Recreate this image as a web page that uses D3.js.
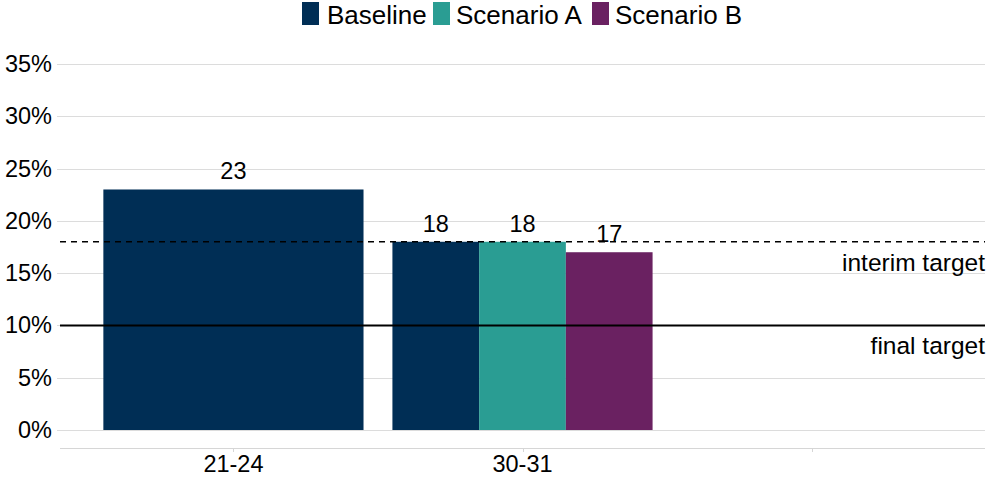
<!DOCTYPE html>
<html>
<head>
<meta charset="utf-8">
<script src="https://cdn.jsdelivr.net/npm/d3@7"></script>
<style>
  html, body { margin: 0; padding: 0; background: #fff; }
  svg { display: block; font-family: "Liberation Sans", Arial, sans-serif; }
</style>
</head>
<body>
<svg id="chart" width="996" height="480"></svg>
<script>
const categories = ["21-24", "30-31", ""];
const seriesNames = ["Baseline", "Scenario A", "Scenario B"];
const baseline  = [23, 18, null];
const scenarioA = [null, 18, null];
const scenarioB = [null, 17, null];
const yTicks = [0, 5, 10, 15, 20, 25, 30, 35];
const targets = [
  { name: "interim target", value: 18, dashed: true },
  { name: "final target", value: 10, dashed: false }
];
const colors = ["#002e55", "#2a9d93", "#6a2161"];

const seriesValues = [baseline, scenarioA, scenarioB];
const svg = d3.select("#chart");

const x = d3.scaleBand().domain(categories).range([60, 985])
  .paddingInner(0.1).paddingOuter(0.15);
const y = d3.scaleLinear().domain([0, 35]).range([430, 64]);
const color = d3.scaleOrdinal().domain(seriesNames).range(colors);

// gridlines
svg.append("g").selectAll("line").data(yTicks).join("line")
  .attr("x1", 57).attr("x2", 985)
  .attr("y1", d => Math.round(y(d)) + 0.5).attr("y2", d => Math.round(y(d)) + 0.5)
  .attr("stroke", "#dcdcdc").attr("stroke-width", 1);

// y labels
svg.append("g").selectAll("text").data(yTicks).join("text")
  .attr("x", 52).attr("y", d => y(d) + 8)
  .attr("text-anchor", "end").attr("font-size", 23.5).attr("fill", "#000")
  .text(d => d + "%");

// x axis
const xAxisY = 448;
svg.append("line").attr("x1", 60).attr("x2", 985)
  .attr("y1", xAxisY + 0.5).attr("y2", xAxisY + 0.5)
  .attr("stroke", "#d6d6d6").attr("stroke-width", 1);
svg.append("g").selectAll("line").data(categories).join("line")
  .attr("x1", d => Math.round(x(d) + x.bandwidth() / 2) + 0.5)
  .attr("x2", d => Math.round(x(d) + x.bandwidth() / 2) + 0.5)
  .attr("y1", xAxisY).attr("y2", xAxisY + 4)
  .attr("stroke", "#d6d6d6");
svg.append("g").selectAll("text").data(categories).join("text")
  .attr("x", d => x(d) + x.bandwidth() / 2).attr("y", 472)
  .attr("text-anchor", "middle").attr("font-size", 23.5).attr("fill", "#000")
  .text(d => d);

// bars
const groups = svg.append("g").selectAll("g").data(categories).join("g")
  .attr("transform", d => `translate(${x(d)},0)`);
groups.each(function(cat, ci) {
  const present = seriesNames.filter((s, si) => seriesValues[si][ci] != null);
  const x1 = d3.scaleBand().domain(present).range([0, x.bandwidth()]);
  const data = present.map(s => ({ s, v: seriesValues[seriesNames.indexOf(s)][ci] }));
  const g = d3.select(this);
  g.selectAll("rect").data(data).join("rect")
    .attr("x", d => x1(d.s)).attr("width", x1.bandwidth())
    .attr("y", d => y(d.v)).attr("height", d => y(0) - y(d.v))
    .attr("fill", d => color(d.s));
  g.selectAll("text").data(data).join("text")
    .attr("x", d => x1(d.s) + x1.bandwidth() / 2).attr("y", d => y(d.v) - 10)
    .attr("text-anchor", "middle").attr("font-size", 23.5).attr("fill", "#000")
    .text(d => d.v);
});

// target lines
svg.append("g").selectAll("line").data(targets).join("line")
  .attr("x1", 60).attr("x2", 985)
  .attr("y1", d => y(d.value)).attr("y2", d => y(d.value))
  .attr("stroke", "#000")
  .attr("stroke-width", d => d.dashed ? 1.3 : 2)
  .attr("stroke-dasharray", d => d.dashed ? "6,5" : null);
svg.append("g").selectAll("text").data(targets).join("text")
  .attr("x", 985).attr("y", d => y(d.value) + 29)
  .attr("text-anchor", "end").attr("font-size", 24.5).attr("fill", "#000")
  .text(d => d.name);

// legend
const legendItems = [
  { name: "Baseline", sx: 302, tx: 327 },
  { name: "Scenario A", sx: 433, tx: 456 },
  { name: "Scenario B", sx: 592, tx: 615 }
];
const lg = svg.append("g");
lg.selectAll("rect").data(legendItems).join("rect")
  .attr("x", d => d.sx).attr("y", 2).attr("width", 17).attr("height", 23)
  .attr("fill", d => color(d.name));
lg.selectAll("text").data(legendItems).join("text")
  .attr("x", d => d.tx).attr("y", 24)
  .attr("font-size", 26).attr("fill", "#000")
  .text(d => d.name);
</script>
</body>
</html>
